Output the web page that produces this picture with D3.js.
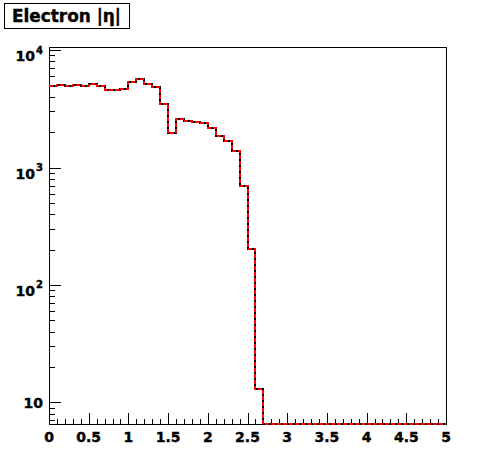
<!DOCTYPE html>
<meta charset="utf-8">
<script src="https://d3js.org/d3.v7.min.js"></script>
<style>
  body { margin: 0; background: #fff; }
  text { font-family: "DejaVu Sans", sans-serif; font-weight: bold; fill: #000; stroke: #000; stroke-width: 0.4px; }
</style>
<div id="my_dataviz"></div>
<script>

// histogram content: 50 bins of width 0.1 from 0 to 5
var binLow = 0, binWidth = 0.1;
var counts = [4920, 5070, 4980, 5070, 4980, 5140, 4980, 4570, 4570, 4670,
              5350, 5710, 5130, 4870, 3500, 1980, 2610, 2510, 2460, 2380,
              2180, 1870, 1690, 1390, 695, 203, 13, 0, 0, 0,
              0, 0, 0, 0, 0, 0, 0, 0, 0, 0,
              0, 0, 0, 0, 0, 0, 0, 0, 0, 0];
var xTickLabels = ["0", "0.5", "1", "1.5", "2", "2.5", "3", "3.5", "4", "4.5", "5"];
var yMajor = [10, 100, 1000, 10000];
var title = "Electron |\u03b7|";

var W = 496, H = 472;
var frame = {left: 49, right: 446, top: 47, bottom: 424};

var svg = d3.select("#my_dataviz")
  .append("svg")
    .attr("width", W)
    .attr("height", H);

var x = d3.scaleLinear()
  .domain([0, 5])
  .range([frame.left, frame.right]);

var y = d3.scaleLog()
  .domain([6.534, 10627])
  .range([frame.bottom, frame.top])
  .clamp(true);

// frame
svg.append("rect")
  .attr("x", frame.left + 0.5)
  .attr("y", frame.top + 0.5)
  .attr("width", frame.right - frame.left)
  .attr("height", frame.bottom - frame.top)
  .style("fill", "none")
  .style("stroke", "#000")
  .style("stroke-width", 1);

// x ticks (major every 0.5, minor every 0.1)
var xMinor = d3.range(0, 51).map(function(i) { return i * binWidth; });
svg.append("g").selectAll("line")
  .data(xMinor).enter()
  .append("line")
    .attr("x1", function(d) { return Math.round(x(d)) + 0.5; })
    .attr("x2", function(d) { return Math.round(x(d)) + 0.5; })
    .attr("y1", frame.bottom)
    .attr("y2", function(d, i) { return frame.bottom - (i % 5 == 0 ? 11 : 5); })
    .style("stroke", "#000");

svg.append("g").selectAll("text")
  .data(xTickLabels).enter()
  .append("text")
    .attr("x", function(d) { return x(+d); })
    .attr("y", 442)
    .attr("text-anchor", "middle")
    .style("font-size", "14px")
    .text(function(d) { return d; });

// y ticks (log)
var yMinor = [];
[1, 10, 100, 1000].forEach(function(dec) {
  for (var k = 2; k <= 9; k++) yMinor.push(k * dec);
});
yMinor = yMinor.filter(function(v) { return v >= y.domain()[0] && v <= y.domain()[1]; });

svg.append("g").selectAll("line")
  .data(yMinor).enter()
  .append("line")
    .attr("x1", frame.left)
    .attr("x2", frame.left + 6)
    .attr("y1", function(d) { return Math.round(y(d)) + 0.5; })
    .attr("y2", function(d) { return Math.round(y(d)) + 0.5; })
    .style("stroke", "#000");

svg.append("g").selectAll("line")
  .data(yMajor).enter()
  .append("line")
    .attr("x1", frame.left)
    .attr("x2", frame.left + 12)
    .attr("y1", function(d) { return Math.round(y(d)) + 0.5; })
    .attr("y2", function(d) { return Math.round(y(d)) + 0.5; })
    .style("stroke", "#000");

yMajor.forEach(function(v) {
  var p = Math.round(Math.log10(v));
  var ty = y(v);
  if (p == 1) {
    svg.append("text")
      .attr("x", 43)
      .attr("y", ty + 5.5)
      .attr("text-anchor", "end")
      .style("font-size", "14px")
      .text("10");
  } else {
    svg.append("text")
      .attr("x", 35)
      .attr("y", ty + 11)
      .attr("text-anchor", "end")
      .style("font-size", "14px")
      .text("10");
    svg.append("text")
      .attr("x", 36)
      .attr("y", ty + 3.5)
      .style("font-size", "10px")
      .text(p);
  }
});

// histogram outline (snapped to the pixel grid)
var pts = counts.map(function(c, i) {
  return [Math.round(x(binLow + i * binWidth)), Math.round(y(c > 0 ? c : 1e-9))];
});
pts.push([Math.round(x(binLow + counts.length * binWidth)), Math.round(y(1e-9))]);

var line = d3.line().curve(d3.curveStepAfter);

svg.append("path")
  .attr("d", line(pts))
  .style("fill", "none")
  .style("stroke", "#000")
  .style("stroke-width", 2);

svg.append("path")
  .attr("d", line(pts))
  .style("fill", "none")
  .style("stroke", "#ff0000")
  .style("stroke-width", 2)
  .style("stroke-dasharray", "4,2");

// title box
svg.append("rect")
  .attr("x", 4.5)
  .attr("y", 3.5)
  .attr("width", 125)
  .attr("height", 25)
  .style("fill", "#fff")
  .style("stroke", "#000");

svg.append("text")
  .attr("x", 12)
  .attr("y", 22)
  .attr("textLength", 109)
  .attr("lengthAdjust", "spacingAndGlyphs")
  .style("font-size", "17.5px")
  .text(title);

</script>
